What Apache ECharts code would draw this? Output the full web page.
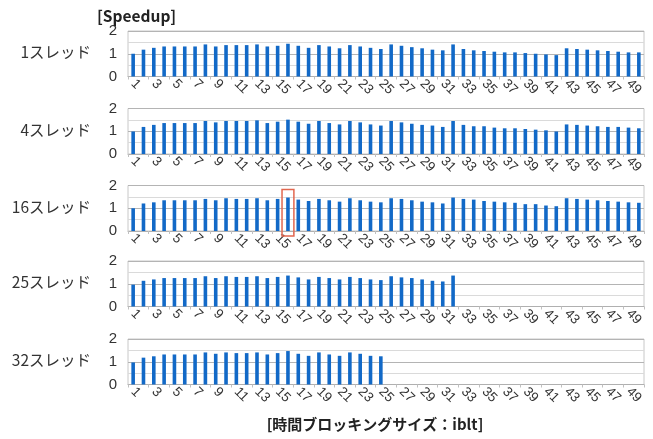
<!DOCTYPE html>
<html><head><meta charset="utf-8">
<script src="https://cdn.jsdelivr.net/npm/echarts@6/dist/echarts.min.js"></script>
<style>html,body{margin:0;padding:0;background:#fff}#c{width:653px;height:439px}</style>
</head><body><div id="c"></div>
<script>
const categories = Array.from({length:50},(_,i)=>String(i+1));
const panelLabels = ['1スレッド','4スレッド','16スレッド','25スレッド','32スレッド'];
const yTicks = [0,1,2];
const t1 = [1.0,1.18,1.26,1.32,1.32,1.32,1.32,1.41,1.32,1.38,1.38,1.38,1.41,1.32,1.35,1.44,1.35,1.26,1.38,1.32,1.24,1.38,1.32,1.26,1.21,1.41,1.35,1.29,1.24,1.18,1.15,1.41,1.21,1.15,1.12,1.09,1.06,1.06,1.03,1.0,0.97,0.94,1.24,1.21,1.18,1.15,1.12,1.09,1.06,1.06];
const t4 = [0.99,1.19,1.28,1.36,1.36,1.36,1.36,1.45,1.39,1.45,1.45,1.45,1.48,1.36,1.42,1.51,1.42,1.33,1.45,1.36,1.30,1.45,1.39,1.30,1.25,1.45,1.39,1.33,1.28,1.25,1.19,1.45,1.28,1.22,1.22,1.16,1.13,1.13,1.10,1.07,1.04,0.99,1.30,1.28,1.25,1.22,1.19,1.19,1.16,1.13];
const t16 = [1.0,1.21,1.26,1.35,1.35,1.35,1.35,1.41,1.35,1.44,1.41,1.41,1.44,1.35,1.41,1.47,1.38,1.32,1.41,1.35,1.29,1.44,1.35,1.29,1.26,1.44,1.41,1.35,1.29,1.26,1.21,1.47,1.41,1.38,1.32,1.29,1.26,1.24,1.18,1.18,1.12,1.09,1.44,1.41,1.38,1.35,1.32,1.29,1.26,1.24];
const t25 = [0.96,1.13,1.19,1.25,1.25,1.25,1.25,1.33,1.25,1.33,1.30,1.30,1.33,1.25,1.30,1.36,1.28,1.19,1.30,1.25,1.19,1.30,1.25,1.19,1.16,1.33,1.28,1.25,1.19,1.13,1.10,1.36];
const t32 = [0.97,1.18,1.24,1.32,1.32,1.32,1.32,1.41,1.35,1.41,1.38,1.38,1.41,1.32,1.38,1.47,1.35,1.26,1.41,1.32,1.26,1.41,1.35,1.26,1.24];
const highlightPanel = 2;
const highlightCategory = '16';

const seriesData = [t1,t4,t16,t25,t32];
const tops = [31,108.5,185.5,261,339];
const H = 45.5;
const FONT = '"Noto Sans CJK JP", "Noto Sans", sans-serif';
const NUMFONT = '"Liberation Sans", Arial, sans-serif';

const chart = echarts.init(document.getElementById('c'), null, {renderer:'canvas'});
const grids = [], xAxes = [], yAxes = [], series = [], titles = [];
tops.forEach((top,i)=>{
  grids.push({left:128, right:9, top:top, height:H, show:true, borderColor:'#c8c8c8', borderWidth:1, backgroundColor:'transparent'});
  xAxes.push({type:'category', gridIndex:i, data:categories, boundaryGap:true,
    axisLine:{lineStyle:{color:'#b0b0b0'}},
    axisTick:{show:true, length:3, lineStyle:{color:'#c0c0c0'}},
    axisLabel:{interval:1, rotate:-45, margin:5, fontSize:13.5, color:'#333', fontFamily:NUMFONT}});
  yAxes.push({type:'value', gridIndex:i, min:yTicks[0], max:yTicks[yTicks.length-1], interval:1,
    axisLine:{show:false}, axisTick:{show:false},
    axisLabel:{fontSize:15, color:'#333', margin:11, fontFamily:NUMFONT},
    splitLine:{lineStyle:{color:'#b4b4b4'}},
    minorTick:{show:false, splitNumber:2},
    minorSplitLine:{show:true, lineStyle:{color:'#dadada'}}});
  series.push({type:'bar', xAxisIndex:i, yAxisIndex:i, data:seriesData[i], barWidth:3.6,
    itemStyle:{color:'#1269c7'}, silent:true, animation:false});
  titles.push({text:panelLabels[i], right:653-91-5, top:top+H/2-14,
    textStyle:{fontSize:15.5, fontWeight:'normal', color:'#333', fontFamily:FONT}});
});
titles.push({text:'[Speedup]', left:92, top:3, textStyle:{fontSize:15.5, fontWeight:'bold', color:'#222', fontFamily:FONT}});
titles.push({text:'[時間ブロッキングサイズ：iblt]', left:370, textAlign:'center', top:412, textStyle:{fontSize:15, fontWeight:'bold', color:'#222', fontFamily:FONT}});

chart.setOption({animation:false, title:titles, grid:grids, xAxis:xAxes, yAxis:yAxes, series:series});

// highlight rectangle around a bar, positioned through the axis scales
const finder = {xAxisIndex:highlightPanel, yAxisIndex:highlightPanel};
const pA = chart.convertToPixel(finder, [highlightCategory, 1.82]);
const pB = chart.convertToPixel(finder, [highlightCategory, -0.22]);
const pPrev = chart.convertToPixel(finder, ['15', 0]);
const band = pA[0] - pPrev[0];
const w = band * 1.15;
chart.setOption({graphic:[{type:'rect', shape:{x:pA[0]-w/2, y:pA[1], width:w, height:pB[1]-pA[1]},
  style:{fill:'none', stroke:'#e2674f', lineWidth:1.5}, z:100}]});
</script></body></html>
